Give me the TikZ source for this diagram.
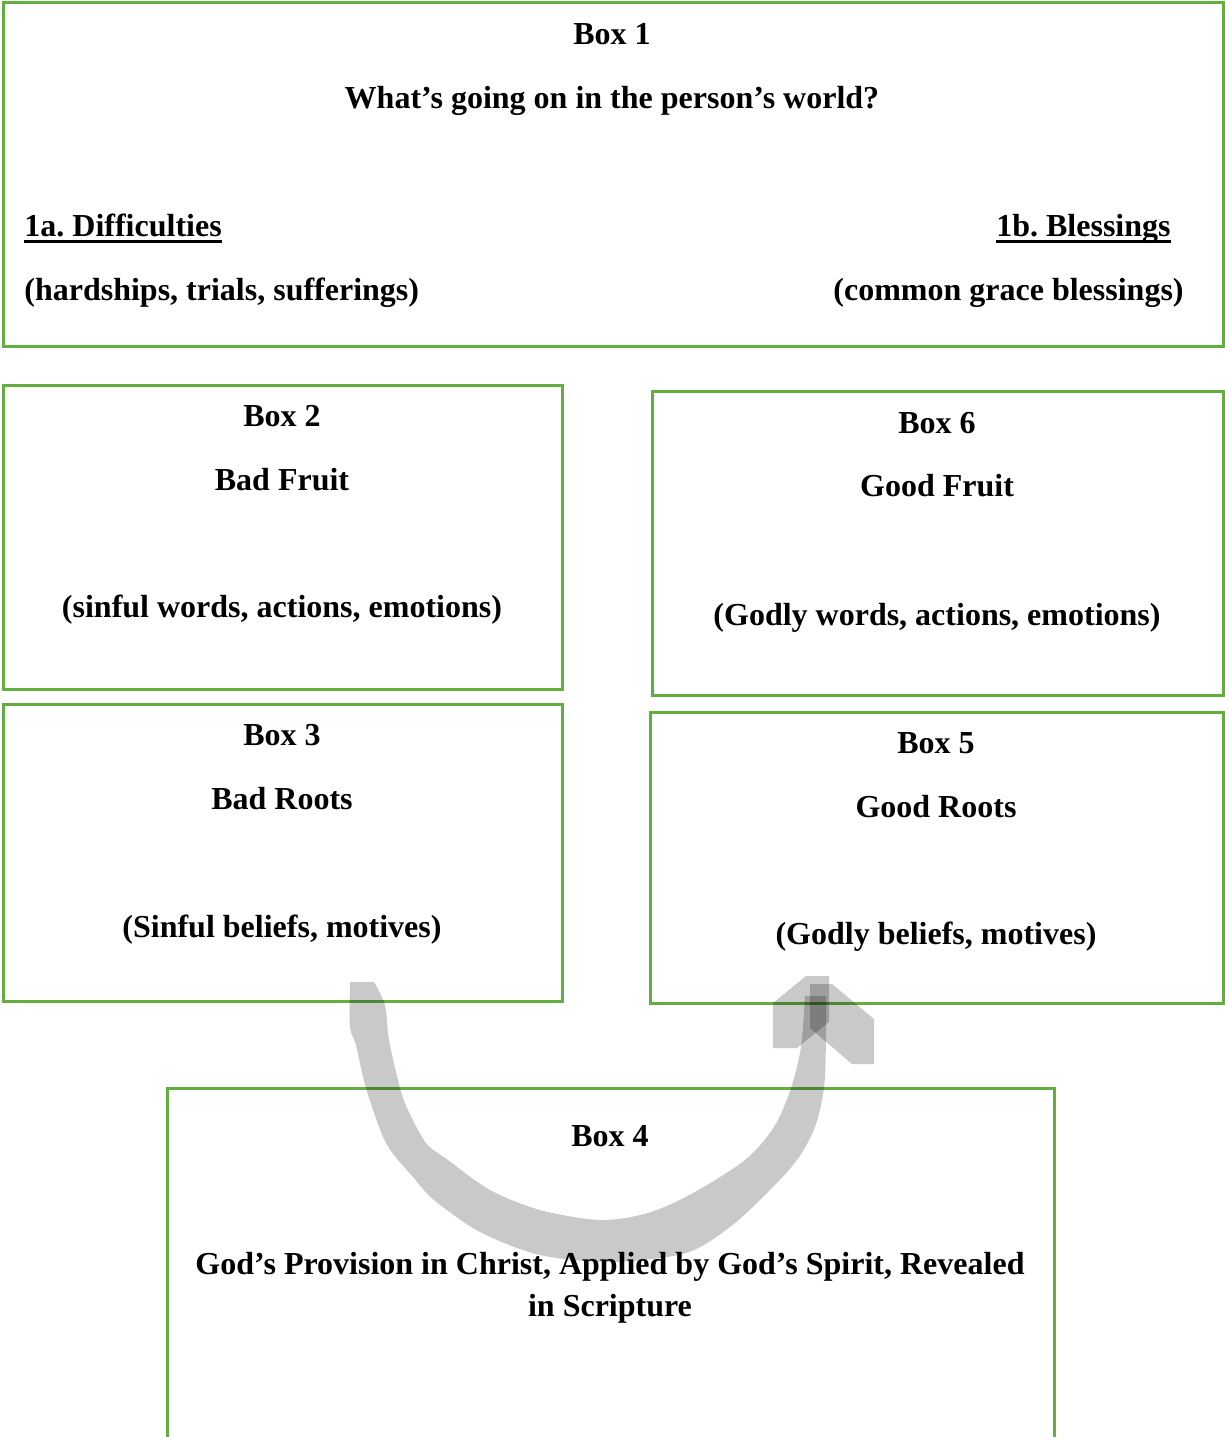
\documentclass[tikz,border=0pt]{standalone}
\usepackage{fontspec}
\setmainfont{Liberation Serif}
\usepackage{tikz}
\usetikzlibrary{calc,positioning}
\frenchspacing

\definecolor{boxgreen}{RGB}{98,175,64}
\newcommand\ulhead[1]{\setbox0\hbox{#1}\rlap{\rule[-3.5pt]{\wd0}{1.5pt}}\box0}
\tikzset{
  box/.style={draw=boxgreen,line width=1.5pt,inner sep=0pt,rectangle},
  txt/.style={anchor=base,inner sep=0pt,font=\fontsize{16}{21}\selectfont\bfseries},
  shade/.style={fill=black,opacity=0.21,draw=none},
}

\begin{document}
\begin{tikzpicture}[x=0.5pt,y=-0.5pt]
  \useasboundingbox (0,0) rectangle (1225,1437);
  \clip (0,0) rectangle (1225,1437);
  % \draw[color=gray,step=50, help lines,opacity=0.3] (0,0) grid (1225,1437); %help grids
  \node[box,minimum width=610pt,minimum height=172pt] (boxA) at (613,174) {};
  \node[box,minimum width=279.5pt,minimum height=152pt] (boxB) at (282.5,537) {};
  \node[box,minimum width=285.5pt,minimum height=152pt] (boxF) at (937.5,543) {};
  \node[box,minimum width=279.5pt,minimum height=148.5pt] (boxC) at (282.5,852.5) {};
  \node[box,minimum width=286.5pt,minimum height=145.5pt] (boxE) at (936.5,857.5) {};
  \node[box,minimum width=443.5pt,minimum height=220pt] (boxD) at (610.5,1308) {};

  % box 1
  \node[txt] (titleA) at (612,44) {Box 1};
  \node[txt] (askA) at (612,108) {What’s going on in the person’s world?};
  \node[txt,anchor=base west] (diff) at (24,236) {\ulhead{1a. Difficulties}};
  \node[txt,anchor=base west] (diffnote) at (24,300) {(hardships, trials, sufferings)};
  \node[txt,anchor=base east] (bless) at (1171,236) {\ulhead{1b. Blessings}};
  \node[txt,anchor=base east] (blessnote) at (1184,300) {(common grace blessings)};

  % box 2
  \node[txt] (titleB) at (282,426) {Box 2};
  \node[txt] (headB) at (282,490) {Bad Fruit};
  \node[txt] (noteB) at (282,617) {(sinful words, actions, emotions)};

  % box 6
  \node[txt] (titleF) at (937,433) {Box 6};
  \node[txt] (headF) at (937,496) {Good Fruit};
  \node[txt] (noteF) at (937,625) {(Godly words, actions, emotions)};

  % box 3
  \node[txt] (titleC) at (282,745) {Box 3};
  \node[txt] (headC) at (282,809) {Bad Roots};
  \node[txt] (noteC) at (282,937) {(Sinful beliefs, motives)};

  % box 5
  \node[txt] (titleE) at (936,753) {Box 5};
  \node[txt] (headE) at (936,817) {Good Roots};
  \node[txt] (noteE) at (936,944) {(Godly beliefs, motives)};

  % box 4
  \node[txt] (titleD) at (610,1146) {Box 4};
  \node[txt] (lineD) at (610,1274) {God’s Provision in Christ, Applied by God’s Spirit, Revealed};
  \node[txt] (lineDb) at (610,1316) {in Scripture};

  % hand drawn arrow from box 3 round to box 5
  \coordinate (from) at (350,982);
  \coordinate (to) at (826,996);
  \fill[shade] plot[smooth] coordinates {(from) (350,1027) (356,1045) (366,1088) (386,1143) (413,1177) (434,1200) (480,1232) (540,1255) (612,1262) (686,1253) (730,1227) (767,1193) (797,1160) (815,1127) (824,1088) (826,1040) (to)}
    -- plot[smooth] coordinates {(805,996) (801,1047) (791,1088) (774,1127) (745,1160) (693,1193) (648,1213) (600,1220) (540,1210) (490,1190) (448,1160) (426,1143) (408,1110) (400,1088) (389,1040) (385,1005) (374,982)} -- cycle;
  \fill[shade] (773,1048)--(773,1003)--(806,976)--(829,976)--(829,1022)--(797,1048)--cycle;
  \fill[shade] (810,984)--(832,984)--(874,1019)--(874,1064)--(852,1064)--(810,1028)--cycle;
\end{tikzpicture}
\end{document}
